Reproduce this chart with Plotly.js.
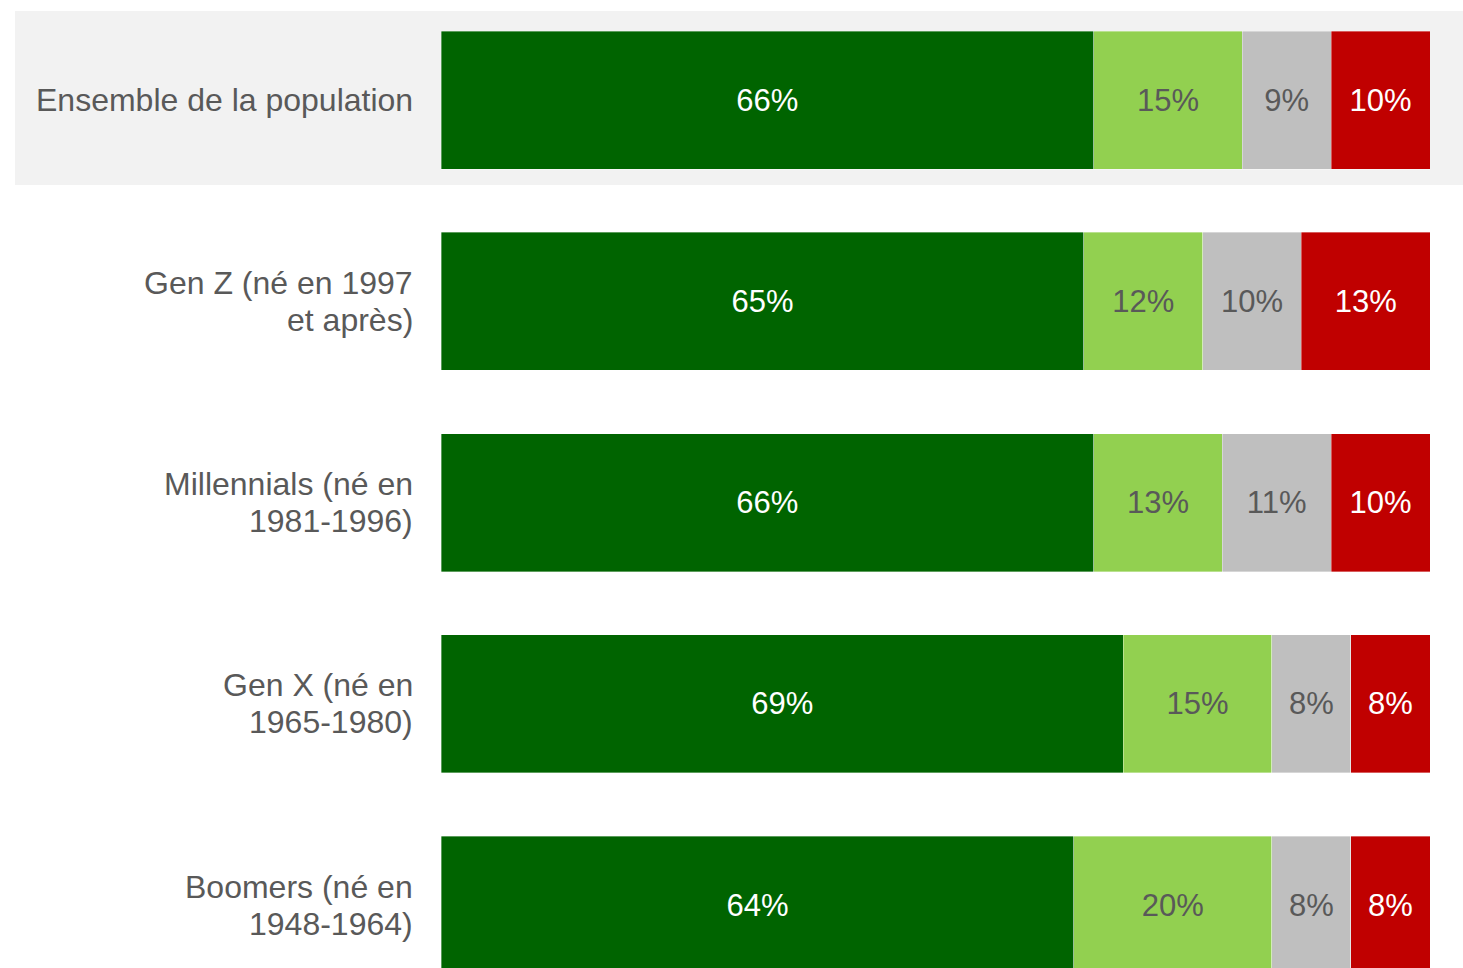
<!DOCTYPE html>
<html>
<head>
<meta charset="utf-8">
<script src="https://cdn.plot.ly/plotly-3.0.1.min.js"></script>
<style>
  html, body { margin: 0; padding: 0; background: #ffffff; }
  #chart { width: 1463px; height: 968px; }
</style>
</head>
<body>
<div id="chart"></div>
<script>
// ---- data ----
var categories = [
  "Ensemble de la population",
  "Gen Z (né en 1997<br>et après)",
  "Millennials (né en<br>1981-1996)",
  "Gen X (né en<br>1965-1980)",
  "Boomers (né en<br>1948-1964)"
];
var seriesNames = ["Série 1", "Série 2", "Série 3", "Série 4"];
var series1 = [66, 65, 66, 69, 64];
var series2 = [15, 12, 13, 15, 20];
var series3 = [9, 10, 11, 8, 8];
var series4 = [10, 13, 10, 8, 8];

// ---- styles ----
var colors = ["#006400", "#92D050", "#BFBFBF", "#C00000"];
var textColors = ["#FFFFFF", "#595959", "#595959", "#FFFFFF"];
var FONT = "'Liberation Sans', Arial, Helvetica, sans-serif";

var allSeries = [series1, series2, series3, series4];
var traces = allSeries.map(function (vals, i) {
  return {
    type: "bar",
    orientation: "h",
    name: seriesNames[i],
    y: categories,
    x: vals,
    marker: { color: colors[i], line: { color: "rgba(255,255,255,0.45)", width: 0.8 } },
    texttemplate: "%{x}%",
    textposition: "inside",
    insidetextanchor: "middle",
    textangle: 0,
    constraintext: "none",
    insidetextfont: { family: FONT, size: 31, color: textColors[i] },
    hoverinfo: "skip"
  };
});

// category labels as annotations (one per line, tighter line spacing)
var LINE_PX = 37;
var annotations = [];
categories.forEach(function (cat) {
  var lines = cat.split("<br>");
  var n = lines.length;
  lines.forEach(function (ln, i) {
    annotations.push({
      xref: "paper", yref: "y",
      x: 0, y: cat,
      xanchor: "right", yanchor: "middle",
      xshift: -26,
      yshift: ((n - 1) / 2 - i) * LINE_PX,
      text: ln,
      showarrow: false,
      align: "right",
      font: { family: FONT, size: 32, color: "#595959" }
    });
  });
});

var layout = {
  width: 1463,
  height: 968,
  margin: { l: 441, r: 33, t: 0, b: 0, pad: 0 },
  paper_bgcolor: "#FFFFFF",
  plot_bgcolor: "rgba(0,0,0,0)",
  barmode: "stack",
  bargap: 0.3143,
  showlegend: false,
  xaxis: {
    range: [0, 100],
    visible: false,
    fixedrange: true
  },
  yaxis: {
    type: "category",
    range: [4.3130, -0.4969],
    showticklabels: false,
    showgrid: false,
    zeroline: false,
    showline: false,
    ticks: "",
    fixedrange: true
  },
  shapes: [{
    type: "rect",
    xref: "paper", yref: "paper",
    x0: -0.43074, x1: 1.03337,
    y0: 0.80888, y1: 0.98864,
    fillcolor: "#F2F2F2",
    line: { width: 0 },
    layer: "below"
  }],
  annotations: annotations,
  font: { family: FONT, color: "#595959" }
};

Plotly.newPlot("chart", traces, layout, { displayModeBar: false, staticPlot: true });
</script>
</body>
</html>
